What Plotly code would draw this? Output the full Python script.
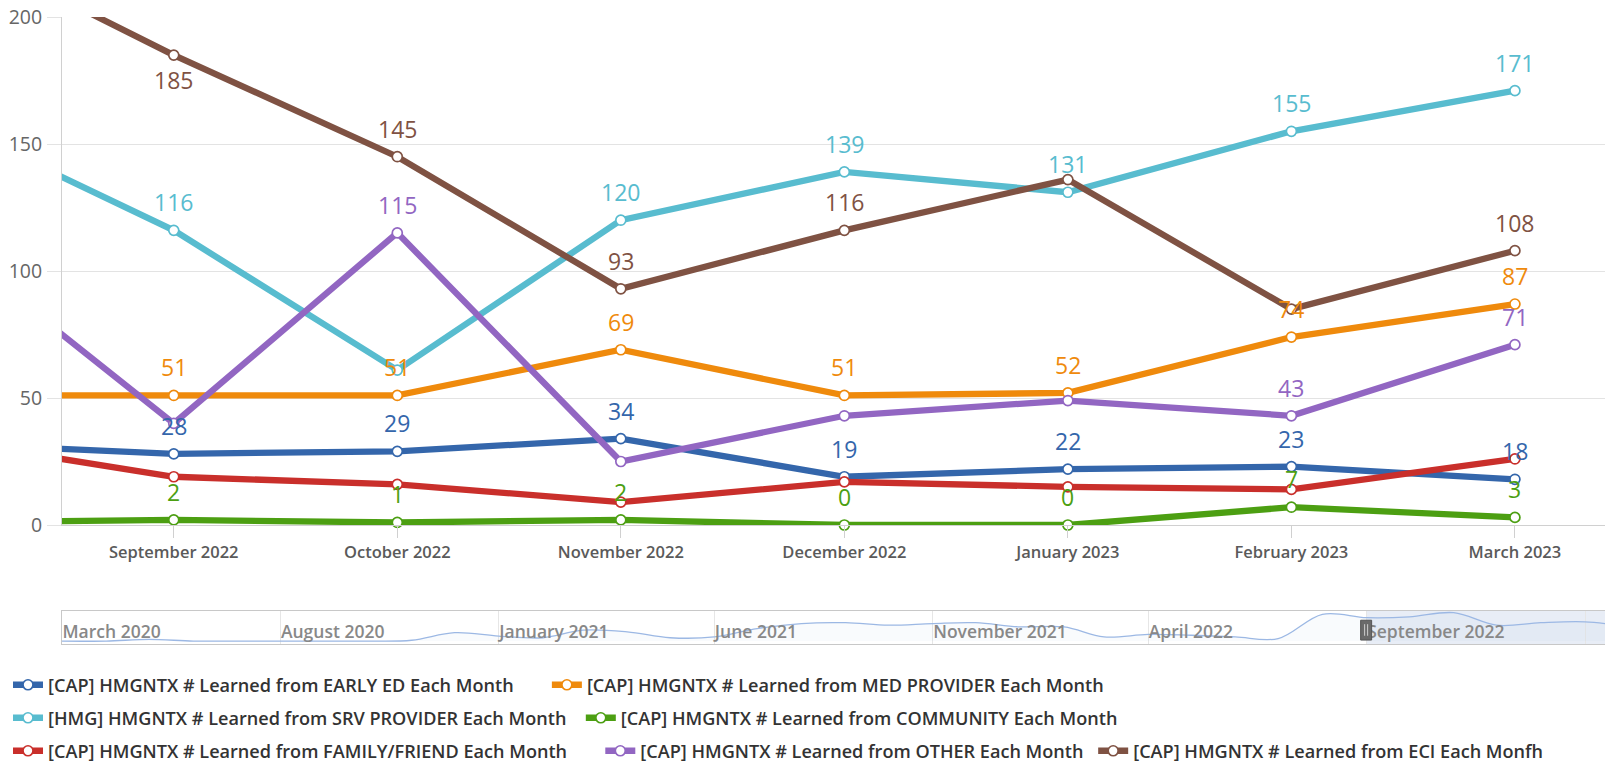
import pandas as pd
import plotly.graph_objects as go

# ---------------- data ----------------
months = ["August 2022", "September 2022", "October 2022", "November 2022",
          "December 2022", "January 2023", "February 2023", "March 2023"]

early_ed      = [32, 28, 29, 34, 19, 22, 23, 18]
med_provider  = [51, 51, 51, 69, 51, 52, 74, 87]
srv_provider  = [158, 116, 61, 120, 139, 131, 155, 171]
community     = [1, 2, 1, 2, 0, 0, 7, 3]
family_friend = [33, 19, 16, 9, 17, 15, 14, 26]
other         = [110, 40, 115, 25, 43, 49, 43, 71]
eci           = [229, 185, 145, 93, 116, 136, 85, 108]

# EARLY ED history shown in the navigator (March 2020 .. July 2022)
early_ed_history = [0, 0, 2, 0, 0, 0, 0, 0, 1, 10,
                    6, 4, 13, 11, 4, 5, 15, 21, 22, 19, 21, 22,
                    17, 17, 5, 8, 7, 5, 3]
nav_start = "2020-03-01"

names = [
    "[CAP] HMGNTX # Learned from EARLY ED Each Month",
    "[CAP] HMGNTX # Learned from MED PROVIDER Each Month",
    "[HMG] HMGNTX # Learned from SRV PROVIDER Each Month",
    "[CAP] HMGNTX # Learned from COMMUNITY Each Month",
    "[CAP] HMGNTX # Learned from FAMILY/FRIEND Each Month",
    "[CAP] HMGNTX # Learned from OTHER Each Month",
    "[CAP] HMGNTX # Learned from ECI Each Monfh",
]
series = [early_ed, med_provider, srv_provider, community, family_friend, other, eci]
colors = ["#3466ab", "#ef8a0c", "#58bccf", "#4c9f12", "#c92f2b", "#9266c2", "#7f5243"]

# which data labels are hidden (overlap) in the original, by month index
hidden_labels = {
    0: [0], 1: [0], 2: [0, 2], 3: [0], 4: list(range(8)),
    5: [0, 1, 3, 4, 5], 6: [0, 5, 6],
}
labels_below = {6: [1]}
legend_rows = ["legend", "legend", "legend2", "legend2", "legend3", "legend3", "legend3"]
legend_pad = [6, 5, 2, 5, 6, 1, 0]

# ---------------- figure ----------------
W, H = 1605, 765
plot_left, plot_top, plot_bottom = 62, 17, 525
nav_top, nav_bottom = 611, 644
ml, mr, mt, mb = 0, 0, plot_top, H - nav_bottom
pw, ph = W - ml - mr, H - mt - mb

xdom = [(plot_left - ml) / pw, 1]
ydom = [(H - mb - plot_bottom) / ph, 1]
y2dom = [0, (nav_bottom - nav_top) / ph]

FONT = "Open Sans, Lato, DejaVu Sans, sans-serif"
fig = go.Figure()

xs = list(range(len(months)))
for k, (nm, vals, col) in enumerate(zip(names, series, colors)):
    fig.add_trace(go.Scatter(
        x=xs, y=vals, name=nm + "\u00a0" * legend_pad[k], mode="lines+markers",
        line=dict(color=col, width=6.3),
        marker=dict(size=10, color="white", line=dict(color=col, width=1.7)),
        cliponaxis=False, legend=legend_rows[k], hoverinfo="skip",
    ))
    for i, v in enumerate(vals):
        if i in hidden_labels.get(k, []):
            continue
        below = i in labels_below.get(k, [])
        fig.add_annotation(
            x=xs[i], y=v, xref="x", yref="y", text=str(v), showarrow=False,
            yshift=-25 if below else 28,
            font=dict(family=FONT, size=23, color=col),
        )

# navigator series
nav_vals = early_ed_history + early_ed
nav_dates = pd.date_range(nav_start, periods=len(nav_vals), freq="MS")
fig.add_trace(go.Scatter(
    x=nav_dates, y=nav_vals, xaxis="x2", yaxis="y2", mode="lines",
    line=dict(color="#9cb8e4", width=1.3, shape="spline"),
    fill="tozeroy", fillcolor="rgba(148,179,227,0.06)",
    showlegend=False, hoverinfo="skip",
))

sel_start = nav_dates[len(early_ed_history) + 1]
fig.add_shape(type="rect", xref="x2", yref="y2 domain",
              x0=sel_start, x1=nav_dates[-1], y0=0, y1=1,
              fillcolor="rgba(102,133,194,0.15)", line_width=0, layer="below")
fig.add_shape(type="rect", xref="x2", yref="y2 domain", xsizemode="pixel",
              xanchor=sel_start, x0=-6, x1=5, y0=0.12, y1=0.72,
              fillcolor="#6a6a6a", line=dict(color="#555", width=1))
for off in (-2, 1):
    fig.add_shape(type="line", xref="x2", yref="y2 domain", xsizemode="pixel",
                  xanchor=sel_start, x0=off, x1=off, y0=0.25, y1=0.6,
                  line=dict(color="#cfcfcf", width=1))

fig.update_layout(
    width=W, height=H, margin=dict(l=ml, r=mr, t=mt, b=mb, autoexpand=False),
    paper_bgcolor="white", plot_bgcolor="white",
    font=dict(family=FONT, color="#333"),
    hovermode=False,
    xaxis=dict(domain=xdom, range=[0.5, 7.403], tickvals=xs, ticktext=months,
               showgrid=False, zeroline=False, showline=True, linecolor="#d0d0d0",
               ticks="outside", ticklen=12, tickcolor="#d0d0d0",
               tickfont=dict(family=FONT, size=16.5, color="#5a5a5a", weight=600)),
    yaxis=dict(domain=ydom, range=[0, 200], dtick=50, showgrid=True,
               gridcolor="#e3e3e3", zeroline=False, showline=True, linecolor="#d0d0d0",
               ticks="outside", ticklen=14, tickcolor="#e3e3e3", ticklabelstandoff=1,
               tickfont=dict(family=FONT, size=19.5, color="#666")),
    xaxis2=dict(domain=xdom, anchor="y2", type="date",
                range=["2020-03-01", "2023-02-15"],
                tick0="2020-03-01", dtick="M5", tickformat="%B %Y",
                ticklabelposition="inside right", ticks="",
                showgrid=True, gridcolor="#e6e6e6", zeroline=False,
                showline=True, mirror=True, linecolor="#c8c8c8",
                tickfont=dict(family=FONT, size=17.5, color="#888888", weight=600)),
    yaxis2=dict(domain=y2dom, anchor="x2", range=[-3.5, 36], showgrid=False,
                zeroline=False, showticklabels=False, showline=True,
                linecolor="#c8c8c8"),
)

row_px = [685, 718, 751]
for key, ypx in zip(["legend", "legend2", "legend3"], row_px):
    fig.update_layout({key: dict(
        orientation="h", x=8 / pw, xanchor="left", y=(H - mb - ypx) / ph, yanchor="middle",
        bgcolor="rgba(0,0,0,0)", borderwidth=0, traceorder="normal",
        font=dict(family=FONT, size=18.1, color="#333", weight=600),
    )})

fig.write_html("out.html", config={"displayModeBar": False},
               post_script="document.body.style.margin='0px';document.body.style.overflow='hidden';")
